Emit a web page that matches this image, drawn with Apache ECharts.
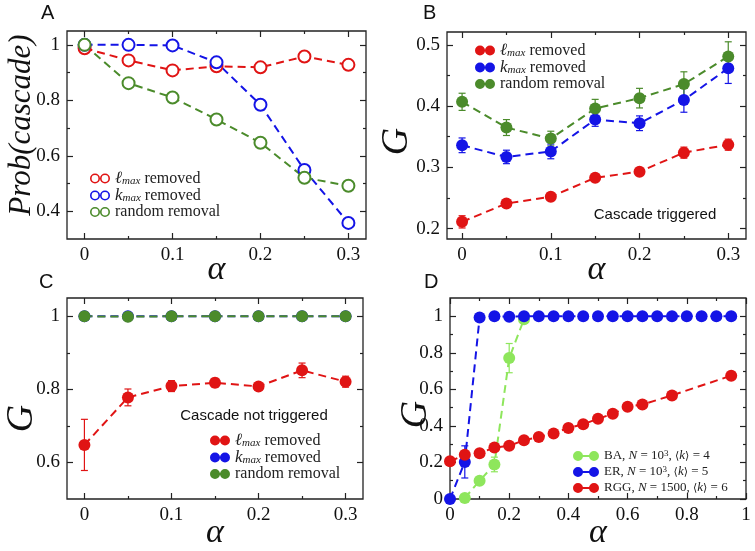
<!DOCTYPE html>
<html><head><meta charset="utf-8">
<script src="https://cdn.jsdelivr.net/npm/echarts@6/dist/echarts.min.js"></script>
<style>html,body{margin:0;padding:0;background:#fff}#c{width:755px;height:551px}</style>
</head><body><div id="c"></div>
<script>
// ---------- data ----------
const alpha = [0, 0.05, 0.1, 0.15, 0.2, 0.25, 0.3];
// Panel A: Prob(cascade)
const probL = [0.988, 0.944, 0.908, 0.923, 0.919, 0.958, 0.928];
const probK = [1.0, 1.0, 0.998, 0.937, 0.784, 0.549, 0.358];
const probR = [1.0, 0.862, 0.81, 0.731, 0.647, 0.521, 0.492];
// Panel B: G, cascade triggered
const gTrigL = [0.211, 0.241, 0.252, 0.283, 0.293, 0.324, 0.337];
const gTrigLErr = [0.01, 0.006, 0.006, 0.005, 0.005, 0.009, 0.009];
const gTrigK = [0.336, 0.317, 0.326, 0.378, 0.372, 0.41, 0.462];
const gTrigKErr = [0.012, 0.011, 0.012, 0.011, 0.012, 0.02, 0.025];
const gTrigR = [0.407, 0.365, 0.347, 0.396, 0.413, 0.436, 0.481];
const gTrigRErr = [0.014, 0.013, 0.012, 0.015, 0.016, 0.02, 0.024];
// Panel C: G, cascade not triggered
const gNotL = [0.648, 0.778, 0.809, 0.818, 0.808, 0.852, 0.821];
const gNotLErr = [0.07, 0.023, 0.015, 0.012, 0.01, 0.02, 0.015];
const gNotK = [1, 1, 1, 1, 1, 1, 1];
const gNotR = [1, 0.999, 1, 1, 1, 1, 1];
// Panel D: networks
const alphaBA = [0.05, 0.1, 0.15, 0.2, 0.25];
const gBA = [0.005, 0.1, 0.189, 0.771, 0.984];
const gBAErr = [0, 0, 0.04, 0.08, 0];
const alphaER = [0, 0.05, 0.1, 0.15, 0.2, 0.25, 0.3, 0.35, 0.4, 0.45, 0.5, 0.55, 0.6, 0.65, 0.7, 0.75, 0.8, 0.85, 0.9, 0.95];
const gER = [0, 0.203, 0.993, 1, 0.998, 1, 1, 1, 1, 1, 1, 1, 1, 1, 1, 1, 1, 1, 1, 1];
const gERErr = [0, 0.088, 0, 0, 0, 0, 0, 0, 0, 0, 0, 0, 0, 0, 0, 0, 0, 0, 0, 0];
const alphaRGG = [0, 0.05, 0.1, 0.15, 0.2, 0.25, 0.3, 0.35, 0.4, 0.45, 0.5, 0.55, 0.6, 0.65, 0.75, 0.95];
const gRGG = [0.206, 0.242, 0.25, 0.282, 0.291, 0.322, 0.339, 0.359, 0.389, 0.409, 0.439, 0.466, 0.505, 0.517, 0.567, 0.675];
// tick values
const ticksA_x = [0, 0.1, 0.2, 0.3], minorA_x = [0.05, 0.15, 0.25];
const ticksA_y = [0.4, 0.6, 0.8, 1], minorA_y = [0.5, 0.7, 0.9];
const ticksB_y = [0.2, 0.3, 0.4, 0.5], minorB_y = [0.25, 0.35, 0.45];
const ticksC_y = [0.6, 0.8, 1], minorC_y = [0.7, 0.9];
const ticksD = [0, 0.2, 0.4, 0.6, 0.8, 1], minorD = [0.1, 0.3, 0.5, 0.7, 0.9];

// ---------- styling ----------
const RED = '#e01414', BLUE = '#1414e6', GREEN = '#4b8b2b', LIME = '#8ee65c';
const SERIF = '"Liberation Serif", "DejaVu Serif", serif';
const SANS = '"Liberation Sans", Arial, sans-serif';
const AXC = '#222';

const grids = [
  {left: 67, top: 31, width: 299, height: 208},
  {left: 447, top: 32, width: 299, height: 207},
  {left: 67, top: 298, width: 296, height: 207},
  {left: 450, top: 298, width: 296, height: 207}
];
const fmt = v => String(+(+v).toFixed(2));
const NA = 5; // axes per dimension per grid

const xAxes = [], yAxes = [];
function addAxes(gi, xr, yr, xt, xm, yt, ym, xName, yName, yNameSize, yGap, xGap, yPad) {
  const base = {type: 'value', gridIndex: gi, splitLine: {show: false}, axisLine: {show: false, onZero: false}};
  const tick = (vals, len) => ({show: true, inside: true, length: len, customValues: vals, lineStyle: {color: AXC, width: 1.2}});
  const noLab = {show: false};
  const lab = vals => ({show: true, customValues: vals, formatter: fmt, color: '#111', fontFamily: SERIF, fontSize: 19, margin: 7});
  const nameStyle = (size, pad) => ({fontFamily: SERIF, fontStyle: 'italic', fontSize: size, color: '#111', verticalAlign: 'middle', padding: pad});
  const X = o => xAxes.push(Object.assign({}, base, {min: xr[0], max: xr[1]}, o));
  const Y = o => yAxes.push(Object.assign({}, base, {min: yr[0], max: yr[1]}, o));
  X({position: 'bottom', axisTick: {show: false}, axisLabel: lab(xt), name: xName, nameLocation: 'middle', nameGap: xGap,
     nameMoveOverlap: false, nameTextStyle: nameStyle(34, 0)});
  X({position: 'bottom', axisTick: tick(xt, 6), axisLabel: noLab});
  X({position: 'bottom', axisTick: tick(xm, 3), axisLabel: noLab});
  X({position: 'top', axisTick: tick(xt, 6), axisLabel: noLab});
  X({position: 'top', axisTick: tick(xm, 3), axisLabel: noLab});
  Y({position: 'left', axisTick: {show: false}, axisLabel: lab(yt), name: yName, nameLocation: 'middle', nameGap: yGap, nameRotate: 90,
     nameMoveOverlap: false, nameTextStyle: nameStyle(yNameSize, yPad)});
  Y({position: 'left', axisTick: tick(yt, 6), axisLabel: noLab});
  Y({position: 'left', axisTick: tick(ym, 3), axisLabel: noLab});
  Y({position: 'right', axisTick: tick(yt, 6), axisLabel: noLab});
  Y({position: 'right', axisTick: tick(ym, 3), axisLabel: noLab});
}
addAxes(0, [-0.02, 0.32], [0.3, 1.05], ticksA_x, minorA_x, ticksA_y, minorA_y, 'α', 'Prob(cascade)', 31, 45, 31, [0, 0, 0, 20]);
addAxes(1, [-0.017, 0.32], [0.183, 0.521], ticksA_x, minorA_x, ticksB_y, minorB_y, 'α', 'G', 38, 50, 31, [0, 12, 0, 0]);
addAxes(2, [-0.02, 0.32], [0.5, 1.05], ticksA_x, minorA_x, ticksC_y, minorC_y, 'α', 'G', 38, 45, 34, [0, 40, 0, 0]);
addAxes(3, [0, 1], [0, 1.1], ticksD, minorD, ticksD, minorD, 'α', 'G', 38, 34, 34, [0, 32, 0, 0]);

const zip = (xs, ys) => xs.map((x, i) => [x, ys[i]]);
const DASH = [8, 5];
function lineSeries(name, gi, xs, ys, color, hollow) {
  return {
    name, type: 'line', xAxisIndex: gi * NA, yAxisIndex: gi * NA, data: zip(xs, ys),
    symbol: hollow ? 'emptyCircle' : 'circle', symbolSize: 12, showSymbol: true,
    lineStyle: {color, width: 2, type: DASH},
    itemStyle: hollow ? {color, borderWidth: 2} : {color, borderWidth: 0},
    emphasis: {disabled: true}, animation: false
  };
}
function errSeries(gi, xs, ys, es, color) {
  const data = xs.map((x, i) => [x, ys[i] - es[i], ys[i] + es[i]]).filter((d, i) => es[i] > 0);
  return {
    type: 'custom', xAxisIndex: gi * NA, yAxisIndex: gi * NA, data, animation: false, silent: true,
    encode: {x: 0, y: [1, 2]},
    renderItem: function (params, api) {
      const x = api.value(0);
      const p1 = api.coord([x, api.value(1)]), p2 = api.coord([x, api.value(2)]);
      const w = 3.5, st = {stroke: color, lineWidth: 1.2};
      return {type: 'group', children: [
        {type: 'line', shape: {x1: p1[0], y1: p1[1], x2: p2[0], y2: p2[1]}, style: st},
        {type: 'line', shape: {x1: p1[0] - w, y1: p1[1], x2: p1[0] + w, y2: p1[1]}, style: st},
        {type: 'line', shape: {x1: p2[0] - w, y1: p2[1], x2: p2[0] + w, y2: p2[1]}, style: st}
      ]};
    }
  };
}

const series = [
  lineSeries('A_l', 0, alpha, probL, RED, true),
  lineSeries('A_k', 0, alpha, probK, BLUE, true),
  lineSeries('A_r', 0, alpha, probR, GREEN, true),
  errSeries(1, alpha, gTrigL, gTrigLErr, RED),
  errSeries(1, alpha, gTrigK, gTrigKErr, BLUE),
  errSeries(1, alpha, gTrigR, gTrigRErr, GREEN),
  lineSeries('B_l', 1, alpha, gTrigL, RED, false),
  lineSeries('B_k', 1, alpha, gTrigK, BLUE, false),
  lineSeries('B_r', 1, alpha, gTrigR, GREEN, false),
  errSeries(2, alpha, gNotL, gNotLErr, RED),
  lineSeries('C_l', 2, alpha, gNotL, RED, false),
  lineSeries('C_k', 2, alpha, gNotK, BLUE, false),
  lineSeries('C_r', 2, alpha, gNotR, GREEN, false),
  errSeries(3, alphaBA, gBA, gBAErr, LIME),
  lineSeries('D_ba', 3, alphaBA, gBA, LIME, false),
  errSeries(3, alphaER, gER, gERErr, BLUE),
  lineSeries('D_er', 3, alphaER, gER, BLUE, false),
  lineSeries('D_rgg', 3, alphaRGG, gRGG, RED, false)
];

const legendText = {
  A_l: '{it|ℓ}{sub|max}{t| removed}', A_k: '{it|k}{sub|max}{t| removed}', A_r: '{t|random removal}',
  B_l: '{it|ℓ}{sub|max}{t| removed}', B_k: '{it|k}{sub|max}{t| removed}', B_r: '{t|random removal}',
  C_l: '{it|ℓ}{sub|max}{t| removed}', C_k: '{it|k}{sub|max}{t| removed}', C_r: '{t|random removal}',
  D_ba: '{s|BA, }{it2|N}{s| = 10}{sup|3}{s|, }{br|⟨}{it2|k}{br|⟩}{s| = 4}',
  D_er: '{s|ER, }{it2|N}{s| = 10}{sup|3}{s|, }{br|⟨}{it2|k}{br|⟩}{s| = 5}',
  D_rgg: '{s|RGG, }{it2|N}{s| = 1500, }{br|⟨}{it2|k}{br|⟩}{s| = 6}'
};
const ringIcon = 'path://M0,5A5,5,0,1,1,10,5A5,5,0,1,1,0,5ZM1.6,5A3.4,3.4,0,1,0,8.4,5A3.4,3.4,0,1,0,1.6,5ZM10,5A5,5,0,1,1,20,5A5,5,0,1,1,10,5ZM11.6,5A3.4,3.4,0,1,0,18.4,5A3.4,3.4,0,1,0,11.6,5Z';
const dotsIcon = 'path://M0,5A5,5,0,1,1,10,5A5,5,0,1,1,0,5ZM9,4L11,4L11,6L9,6ZM10,5A5,5,0,1,1,20,5A5,5,0,1,1,10,5Z';
const dotsLineIcon = 'path://M0,5A5,5,0,1,1,10,5A5,5,0,1,1,0,5ZM9,4L17,4L17,6L9,6ZM16,5A5,5,0,1,1,26,5A5,5,0,1,1,16,5Z';
const richL = {
  t: {fontFamily: SERIF, fontSize: 16, color: '#222', lineHeight: 16},
  s: {fontFamily: SERIF, fontSize: 13, color: '#222', lineHeight: 16},
  it: {fontFamily: SERIF, fontStyle: 'italic', fontSize: 17, color: '#222', lineHeight: 16},
  it2: {fontFamily: SERIF, fontStyle: 'italic', fontSize: 13, color: '#222', lineHeight: 16},
  br: {fontFamily: '"DejaVu Serif", serif', fontSize: 11, color: '#222', lineHeight: 16},
  sup: {fontFamily: SERIF, fontSize: 9, color: '#222', lineHeight: 11, padding: [0, 0, 5, 0]},
  sub: {fontFamily: SERIF, fontStyle: 'italic', fontSize: 11, color: '#222', lineHeight: 11, padding: [5, 0, 0, 0]}
};
function mkLegend(data, left, top, icon, w) {
  return {data, left, top, orient: 'vertical', icon, itemWidth: w, itemHeight: 10, itemGap: 0,
    itemStyle: {borderWidth: 0}, selectedMode: false, padding: 0,
    formatter: n => legendText[n],
    textStyle: {fontFamily: SERIF, fontSize: 16, lineHeight: 16, color: '#222', rich: richL}};
}

const option = {
  animation: false,
  grid: grids.map(g => Object.assign({show: true, borderColor: AXC, borderWidth: 1.3, backgroundColor: 'transparent', containLabel: false}, g)),
  xAxis: xAxes, yAxis: yAxes, series,
  legend: [
    mkLegend(['A_l', 'A_k', 'A_r'], 90, 170, ringIcon, 20),
    mkLegend(['B_l', 'B_k', 'B_r'], 475, 42, dotsIcon, 20),
    mkLegend(['C_l', 'C_k', 'C_r'], 210, 432, dotsIcon, 20),
    mkLegend(['D_ba', 'D_er', 'D_rgg'], 573, 448, dotsLineIcon, 26)
  ],
  title: [
    {text: 'A', left: 41, top: 3},
    {text: 'B', left: 423, top: 3},
    {text: 'C', left: 39, top: 272},
    {text: 'D', left: 424, top: 272}
  ].map(t => Object.assign(t, {padding: 0, textStyle: {fontFamily: SANS, fontSize: 20, fontWeight: 'normal', color: '#111'}})),
  graphic: [
    {type: 'text', x: 655, y: 215, style: {text: 'Cascade triggered', font: '15px ' + SANS, fill: '#111', align: 'center', verticalAlign: 'middle'}},
    {type: 'text', x: 254, y: 416, style: {text: 'Cascade not triggered', font: '15px ' + SANS, fill: '#111', align: 'center', verticalAlign: 'middle'}}
  ]
};
const chart = echarts.init(document.getElementById('c'), null, {renderer: 'canvas'});
chart.setOption(option);
</script>
</body></html>
